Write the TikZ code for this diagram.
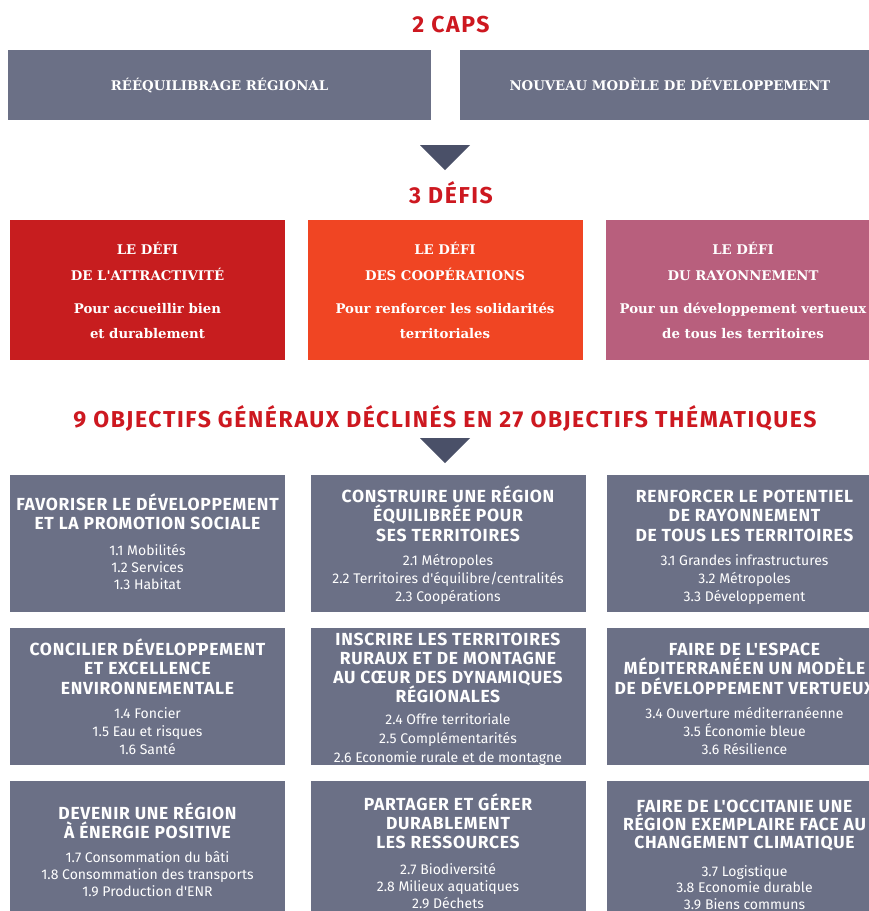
\documentclass[tikz,border=0pt]{standalone}
\usepackage{fontspec}
\setmainfont{Fira Sans}[Ligatures=TeXOff]
\newfontfamily\dinfont{Fira Sans}[Ligatures=TeXOff, LetterSpace=4]
\newfontfamily\titlefont{Fira Sans}[Ligatures=TeXOff, LetterSpace=7]
\newfontfamily\slabfont{DejaVu Serif}[Ligatures=TeXOff]
\usepackage{tikz}
\usetikzlibrary{positioning}
\usepackage{xcolor}

\definecolor{titlered}{RGB}{205,24,32}
\definecolor{boxgrey}{RGB}{107,112,134}
\definecolor{arrowgrey}{RGB}{74,80,104}
\definecolor{defired}{RGB}{199,29,31}
\definecolor{defiorange}{RGB}{240,69,35}
\definecolor{defipink}{RGB}{184,95,125}

\tikzset{
  panel/.style={inner sep=0pt, draw=none},
  capbox/.style={panel, fill=boxgrey, minimum height=70pt},
  defibox/.style={panel, minimum width=275pt, minimum height=140pt},
  objbox/.style={panel, fill=boxgrey, minimum width=275pt, minimum height=137pt},
  txt/.style={inner sep=0pt, anchor=base, text=white},
  bigtitle/.style={inner sep=0pt, anchor=base, text=titlered, font=\titlefont\bfseries\fontsize{23}{25}\selectfont},
  captext/.style={txt, font=\slabfont\bfseries\fontsize{13.3}{16}\selectfont},
  defihead/.style={txt, font=\slabfont\bfseries\fontsize{13.3}{15}\selectfont},
  defitext/.style={txt, font=\slabfont\bfseries\fontsize{13.3}{15}\selectfont},
  objhead/.style={txt, font=\dinfont\bfseries\fontsize{17.5}{19}\selectfont},
  objitem/.style={txt, font=\fontsize{14}{17}\selectfont},
}

\begin{document}
\begin{tikzpicture}[x=1pt, y=-1pt]
\useasboundingbox (0,0) rectangle (869,911);

% 2 caps
\node[bigtitle] (tcaps) at (451,32) {2 CAPS};
\node[capbox, minimum width=423pt] (capreg) at (219.5,85) {};
\node[capbox, minimum width=420pt] (capdev) at (670,85) {};
\node[captext] (capregt) at (219.5,90) {RÉÉQUILIBRAGE RÉGIONAL};
\node[captext] (capdevt) at (670,90) {NOUVEAU MODÈLE DE DÉVELOPPEMENT};

\fill[arrowgrey] (420,145) -- (470,145) -- (445,170) -- cycle;

% 3 defis
\node[bigtitle] (tdefis) at (451,203) {3 DÉFIS};
\node[defibox, fill=defired] (dattr) at (147.5,290) {};
\node[defibox, fill=defiorange] (dcoop) at (445,290) {};
\node[defibox, fill=defipink] (dray) at (743,290) {};

\foreach \t [count=\i] in {LE DÉFI, DE L'ATTRACTIVITÉ}
  \node[defihead] (dattrh\i) at (147.5,{254+26*(\i-1)}) {\t};
\foreach \t [count=\i] in {Pour accueillir bien, et durablement}
  \node[defitext] (dattrt\i) at (147.5,{313+25*(\i-1)}) {\t};
\foreach \t [count=\i] in {LE DÉFI, DES COOPÉRATIONS}
  \node[defihead] (dcooph\i) at (445,{254+26*(\i-1)}) {\t};
\foreach \t [count=\i] in {Pour renforcer les solidarités, territoriales}
  \node[defitext] (dcoopt\i) at (445,{313+25*(\i-1)}) {\t};
\foreach \t [count=\i] in {LE DÉFI, DU RAYONNEMENT}
  \node[defihead] (drayh\i) at (743,{254+26*(\i-1)}) {\t};
\foreach \t [count=\i] in {Pour un développement vertueux, de tous les territoires}
  \node[defitext] (drayt\i) at (743,{313+25*(\i-1)}) {\t};

% 9 objectifs
\node[bigtitle] (tobj) at (445,427) {9 OBJECTIFS GÉNÉRAUX DÉCLINÉS EN 27 OBJECTIFS THÉMATIQUES};
\fill[arrowgrey] (420,438) -- (470,438) -- (445,463) -- cycle;

\node[objbox] (o11) at (147.5,543.5) {};
\node[objbox] (o21) at (448,543.5) {};
\node[objbox] (o31) at (744.5,543.5) {};
\node[objbox] (o12) at (147.5,696) {};
\node[objbox] (o22) at (448,696) {};
\node[objbox] (o32) at (744.5,696) {};
\node[objbox, minimum height=140pt] (o13) at (147.5,851) {};
\node[objbox, minimum height=140pt] (o23) at (448,851) {};
\node[objbox, minimum height=140pt] (o33) at (744.5,851) {};

% row 1
\foreach \t [count=\i] in {FAVORISER LE DÉVELOPPEMENT, ET LA PROMOTION SOCIALE}
  \node[objhead] (o11h\i) at (147.5,{510+19.5*(\i-1)}) {\t};
\foreach \t [count=\i] in {1.1 Mobilités, 1.2 Services, 1.3 Habitat}
  \node[objitem] (o11i\i) at (147.5,{555+17*(\i-1)}) {\t};
\foreach \t [count=\i] in {CONSTRUIRE UNE RÉGION, ÉQUILIBRÉE POUR, SES TERRITOIRES}
  \node[objhead] (o21h\i) at (448,{502+19.5*(\i-1)}) {\t};
\foreach \t [count=\i] in {2.1 Métropoles, 2.2 Territoires d'équilibre/centralités, 2.3 Coopérations}
  \node[objitem] (o21i\i) at (448,{565+18*(\i-1)}) {\t};
\foreach \t [count=\i] in {RENFORCER LE POTENTIEL, DE RAYONNEMENT, DE TOUS LES TERRITOIRES}
  \node[objhead] (o31h\i) at (744.5,{502+19.5*(\i-1)}) {\t};
\foreach \t [count=\i] in {3.1 Grandes infrastructures, 3.2 Métropoles, 3.3 Développement}
  \node[objitem] (o31i\i) at (744.5,{565+18*(\i-1)}) {\t};

% row 2
\foreach \t [count=\i] in {CONCILIER DÉVELOPPEMENT, ET EXCELLENCE, ENVIRONNEMENTALE}
  \node[objhead] (o12h\i) at (147.5,{655+19.5*(\i-1)}) {\t};
\foreach \t [count=\i] in {1.4 Foncier, 1.5 Eau et risques, 1.6 Santé}
  \node[objitem] (o12i\i) at (147.5,{718+18*(\i-1)}) {\t};
\foreach \t [count=\i] in {INSCRIRE LES TERRITOIRES, RURAUX ET DE MONTAGNE, AU CŒUR DES DYNAMIQUES, RÉGIONALES}
  \node[objhead] (o22h\i) at (448,{645+19.3*(\i-1)}) {\t};
\foreach \t [count=\i] in {2.4 Offre territoriale, 2.5 Complémentarités, 2.6 Economie rurale et de montagne}
  \node[objitem] (o22i\i) at (448,{724+19*(\i-1)}) {\t};
\foreach \t [count=\i] in {FAIRE DE L'ESPACE, MÉDITERRANÉEN UN MODÈLE, DE DÉVELOPPEMENT VERTUEUX}
  \node[objhead] (o32h\i) at (744.5,{655+19.5*(\i-1)}) {\t};
\foreach \t [count=\i] in {3.4 Ouverture méditerranéenne, 3.5 Économie bleue, 3.6 Résilience}
  \node[objitem] (o32i\i) at (744.5,{718+18*(\i-1)}) {\t};

% row 3
\foreach \t [count=\i] in {DEVENIR UNE RÉGION, À ÉNERGIE POSITIVE}
  \node[objhead] (o13h\i) at (147.5,{819+19*(\i-1)}) {\t};
\foreach \t [count=\i] in {1.7 Consommation du bâti, 1.8 Consommation des transports, 1.9 Production d'ENR}
  \node[objitem] (o13i\i) at (147.5,{862+17*(\i-1)}) {\t};
\foreach \t [count=\i] in {PARTAGER ET GÉRER, DURABLEMENT, LES RESSOURCES}
  \node[objhead] (o23h\i) at (448,{810+19*(\i-1)}) {\t};
\foreach \t [count=\i] in {2.7 Biodiversité, 2.8 Milieux aquatiques, 2.9 Déchets}
  \node[objitem] (o23i\i) at (448,{874+17*(\i-1)}) {\t};
\foreach \t [count=\i] in {FAIRE DE L'OCCITANIE UNE, RÉGION EXEMPLAIRE FACE AU, CHANGEMENT CLIMATIQUE}
  \node[objhead] (o33h\i) at (744.5,{812+18*(\i-1)}) {\t};
\foreach \t [count=\i] in {3.7 Logistique, 3.8 Economie durable, 3.9 Biens communs}
  \node[objitem] (o33i\i) at (744.5,{876+16.5*(\i-1)}) {\t};
\end{tikzpicture}
\end{document}
